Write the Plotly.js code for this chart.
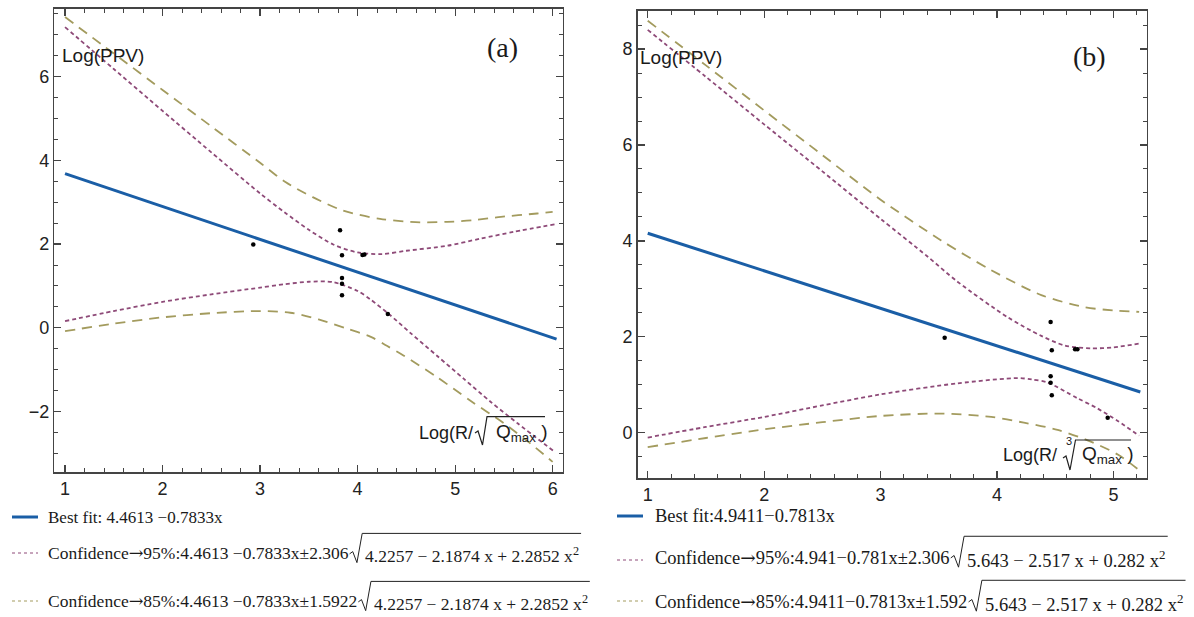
<!DOCTYPE html>
<html><head><meta charset="utf-8">
<script src="https://cdn.plot.ly/plotly-3.0.1.min.js"></script>
<style>html,body{margin:0;padding:0;background:#fff}#c{width:1194px;height:617px}</style>
</head><body><div id="c"></div>
<script>
// ---- data ----
// panel (a)
const aFitX = [1, 6.04];
const aFitY = [3.68, -0.27];
const aPtsX = [2.93, 3.82, 3.84, 3.84, 3.84, 3.84, 4.05, 4.07, 4.31];
const aPtsY = [1.99, 2.33, 1.73, 1.19, 1.05, 0.78, 1.74, 1.75, 0.33];
const aU95x = [1, 1.5, 2, 2.5, 3, 3.25, 3.5, 3.75, 4, 4.25, 4.5, 4.92, 5.26, 5.6, 6.02];
const aU95y = [7.18, 6.18, 5.18, 4.19, 3.21, 2.76, 2.34, 1.99, 1.80, 1.76, 1.84, 1.96, 2.13, 2.29, 2.47];
const aL95x = [1, 1.5, 2, 2.5, 3, 3.25, 3.5, 3.75, 4, 4.13, 4.32, 4.54, 4.82, 5.09, 5.36, 5.64, 6.02];
const aL95y = [0.16, 0.40, 0.62, 0.80, 0.96, 1.04, 1.10, 1.09, 0.88, 0.68, 0.33, -0.12, -0.68, -1.22, -1.76, -2.28, -2.96];
const aU85x = [1, 1.5, 2, 2.5, 3, 3.26, 3.54, 3.85, 4.23, 4.64, 4.92, 5.19, 5.47, 5.84, 6.0];
const aU85y = [7.42, 6.55, 5.68, 4.81, 3.94, 3.48, 3.12, 2.80, 2.60, 2.52, 2.53, 2.57, 2.65, 2.73, 2.77];
const aL85x = [1, 1.5, 2, 2.5, 3, 3.31, 3.6, 3.89, 4.13, 4.30, 4.47, 4.81, 5.15, 5.50, 5.77, 6.0];
const aL85y = [-0.08, 0.10, 0.25, 0.35, 0.40, 0.36, 0.20, -0.02, -0.21, -0.43, -0.66, -1.17, -1.73, -2.28, -2.76, -3.20];
// panel (b)
const bFitX = [1, 5.23];
const bFitY = [4.16, 0.85];
const bPtsX = [3.55, 4.46, 4.47, 4.67, 4.69, 4.46, 4.46, 4.47, 4.95];
const bPtsY = [1.98, 2.31, 1.72, 1.74, 1.74, 1.18, 1.04, 0.78, 0.31];
const bU95x = [1, 1.5, 2, 2.5, 3, 3.4, 3.66, 4.09, 4.38, 4.58, 4.81, 5.0, 5.22];
const bU95y = [8.40, 7.42, 6.43, 5.45, 4.46, 3.68, 3.15, 2.41, 2.02, 1.82, 1.76, 1.78, 1.86];
const bL95x = [1, 1.5, 2, 2.5, 3, 3.66, 4.18, 4.3, 4.43, 4.69, 4.86, 5.04, 5.22];
const bL95y = [-0.10, 0.12, 0.33, 0.57, 0.80, 1.03, 1.14, 1.11, 1.05, 0.72, 0.51, 0.24, -0.06];
const bU85x = [1, 1.5, 2, 2.5, 3, 3.52, 3.95, 4.38, 4.75, 5.0, 5.22];
const bU85y = [8.59, 7.66, 6.72, 5.79, 4.86, 4.01, 3.39, 2.87, 2.62, 2.55, 2.52];
const bL85x = [1, 1.5, 2, 2.5, 3, 3.52, 3.95, 4.23, 4.52, 4.81, 5.04, 5.22];
const bL85y = [-0.30, -0.11, 0.07, 0.22, 0.35, 0.40, 0.33, 0.21, 0.06, -0.19, -0.46, -0.78];

// ---- text ----
const ARROW = "\u2192";
const fitA = "Best fit: 4.4613 \u22120.7833x";
const confA = [["Confidence", "95%:4.4613 \u22120.7833x\u00b12.306"],
               ["Confidence", "85%:4.4613 \u22120.7833x\u00b11.5922"]];
const sqrtA = ["4.2257 \u2212 2.1874 x + 2.2852 x", "2"];
const fitB = "Best fit:4.9411\u22120.7813x";
const confB = [["Confidence", "95%:4.941\u22120.781x\u00b12.306"],
               ["Confidence", "85%:4.9411\u22120.7813x\u00b11.592"]];
const sqrtB = ["5.643 \u2212 2.517 x + 0.282 x", "2"];

// ---- styles ----
const W = 1194, H = 617;
const px = x => x / W, py = y => 1 - y / H;
const BLUE = '#1a5ea6', PURPLE = '#8e4a78', OLIVE = '#a39b5e', AX = '#444';
const SANS = 'Liberation Sans, Arial, sans-serif';
const SERIF = 'Liberation Serif, Times New Roman, serif';
const ARROWFONT = 'DejaVu Serif';

const cv = document.createElement('canvas').getContext('2d');
function mw(text, size, fam) { cv.font = size + "px '" + fam + "'"; return cv.measureText(text).width; }

function band(x, y, xa, ya, color, dash) {
  return {x, y, xaxis: xa, yaxis: ya, type: 'scatter', mode: 'lines',
    line: {color, width: 1.8, dash, shape: 'spline', smoothing: 0.8}, hoverinfo: 'skip'};
}
const traces = [
  band(aU85x, aU85y, 'x', 'y', OLIVE, '10px,7px'),
  band(aL85x, aL85y, 'x', 'y', OLIVE, '10px,7px'),
  band(aU95x, aU95y, 'x', 'y', PURPLE, '4px,3px'),
  band(aL95x, aL95y, 'x', 'y', PURPLE, '4px,3px'),
  {x: aFitX, y: aFitY, xaxis: 'x', yaxis: 'y', mode: 'lines', line: {color: BLUE, width: 3}},
  {x: aPtsX, y: aPtsY, xaxis: 'x', yaxis: 'y', mode: 'markers', marker: {color: '#000', size: 4.5}},
  band(bU85x, bU85y, 'x2', 'y2', OLIVE, '10px,7px'),
  band(bL85x, bL85y, 'x2', 'y2', OLIVE, '10px,7px'),
  band(bU95x, bU95y, 'x2', 'y2', PURPLE, '4px,3px'),
  band(bL95x, bL95y, 'x2', 'y2', PURPLE, '4px,3px'),
  {x: bFitX, y: bFitY, xaxis: 'x2', yaxis: 'y2', mode: 'lines', line: {color: BLUE, width: 3}},
  {x: bPtsX, y: bPtsY, xaxis: 'x2', yaxis: 'y2', mode: 'markers', marker: {color: '#000', size: 4.5}}
];

function ax(domain, range, dtick, mdtick, anchor) {
  return {domain, range, anchor, dtick, tick0: 0, showline: true, linecolor: AX, linewidth: 1.5,
    mirror: 'allticks', ticks: 'inside', ticklen: 7, tickwidth: 1.2, tickcolor: AX,
    minor: {dtick: mdtick, tick0: 0, ticks: 'inside', ticklen: 4, tickwidth: 1, tickcolor: AX},
    showgrid: false, zeroline: false, fixedrange: true,
    tickfont: {family: SANS, size: 18, color: '#222'}};
}

function path(pts) {
  return pts.map((p, i) => (i ? 'L' : 'M') + px(p[0]).toFixed(5) + ',' + py(p[1]).toFixed(5)).join(' ');
}
function pshape(pts, w) {
  return {type: 'path', xref: 'paper', yref: 'paper', path: path(pts), line: {color: '#222', width: w || 1.2}};
}
function lshape(x0, x1, y, color, width, dash) {
  return {type: 'line', xref: 'paper', yref: 'paper', x0: px(x0), x1: px(x1), y0: py(y), y1: py(y),
    line: {color, width, dash}};
}
function txt(text, x, y, size, family, xanchor) {
  return {text, x: px(x), y: py(y), xref: 'paper', yref: 'paper', showarrow: false,
    xanchor: xanchor || 'left', yanchor: 'middle', borderpad: 0, font: {family, size, color: '#1a1a1a'}};
}

const annotations = [
  txt('Log(PPV)', 61, 55, 19, SANS),
  txt('Log(PPV)', 639, 57, 19, SANS),
  txt('(a)', 502, 48, 28, SERIF, 'center'),
  txt('(b)', 1089, 56, 28, SERIF, 'center'),
  txt('Log(R/', 418, 433, 18, SANS),
  txt('Q<sub>max</sub> )', 495, 433, 19, SANS),
  txt('Log(R/', 1002, 455, 18, SANS),
  txt('3', 1069, 441, 11, SANS, 'center'),
  txt('Q<sub>max</sub> )', 1081, 455, 19, SANS)
];

const shapes = [
  pshape([[475, 433], [478, 431], [482.5, 445], [487, 416.7], [545, 416.7]]),
  pshape([[1063, 458], [1066, 456], [1070, 470], [1075.5, 440], [1131, 440]]),
  lshape(12, 38, 517, BLUE, 3),
  lshape(12, 38, 553, PURPLE, 1, 'dot'),
  lshape(12, 38, 601, OLIVE, 1, 'dot'),
  lshape(617, 643, 516, BLUE, 3),
  lshape(617, 643, 560, PURPLE, 1, 'dot'),
  lshape(617, 643, 601, OLIVE, 1, 'dot')
];

// legend lines: text + radical drawn after measured prefix
function confLine(parts, sq, x, c, s) {
  const pre = parts[0] + '<span style="font-family:' + ARROWFONT + '">' + ARROW + '</span>' + parts[1];
  annotations.push(txt(pre, x, c, s, SERIF));
  const w = mw(parts[0], s, 'Liberation Serif') + mw(ARROW, s, ARROWFONT) + mw(parts[1], s, 'Liberation Serif');
  const x0 = x + w + 0.12 * s;
  const cx = x0 + 0.85 * s;
  const cw = mw(sq[0], s, 'Liberation Serif') + mw(sq[1], s * 0.7, 'Liberation Serif');
  annotations.push(txt(sq[0] + '<sup>' + sq[1] + '</sup>', cx, c + 0.12 * s, s, SERIF));
  const top = c - 1.12 * s;
  shapes.push(pshape([[x0, c + 0.05 * s], [x0 + 0.18 * s, c - 0.08 * s], [x0 + 0.42 * s, c + 0.55 * s],
    [x0 + 0.72 * s, top], [cx + cw + 0.15 * s, top]], 1));
}
annotations.push(txt(fitA, 47, 517, 17, SERIF));
confLine(confA[0], sqrtA, 47, 553, 17.5);
confLine(confA[1], sqrtA, 47, 601, 17.5);
annotations.push(txt(fitB, 654, 516, 18.5, SERIF));
confLine(confB[0], sqrtB, 654, 557, 18.5);
confLine(confB[1], sqrtB, 654, 601, 18.5);

const layout = {
  width: W, height: H, margin: {l: 0, r: 0, t: 0, b: 0}, showlegend: false,
  paper_bgcolor: '#fff', plot_bgcolor: '#fff',
  xaxis: ax([px(54.3), px(562.7)], [0.89, 6.103], 1, 0.2, 'y'),
  yaxis: ax([py(472.3), py(8.7)], [-3.45, 7.62], 2, 0.5, 'x'),
  xaxis2: ax([px(637.7), px(1146.7)], [0.914, 5.285], 1, 0.2, 'y2'),
  yaxis2: ax([py(478.3), py(10.7)], [-0.95, 8.80], 2, 0.5, 'x2'),
  annotations, shapes
};
Plotly.newPlot('c', traces, layout, {displayModeBar: false, staticPlot: true});
</script></body></html>
